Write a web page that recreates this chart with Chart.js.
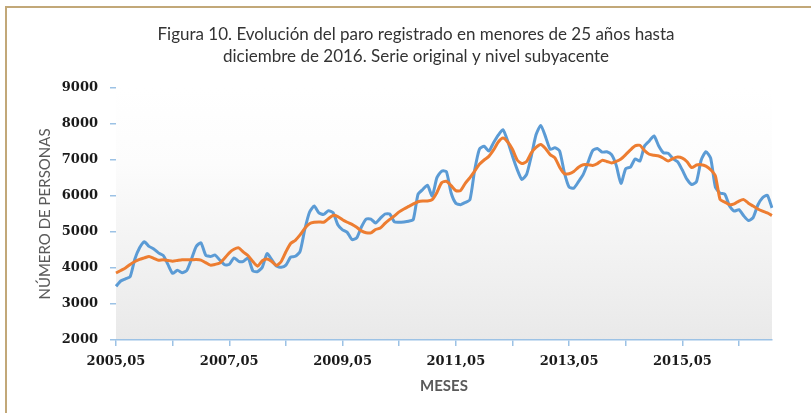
<!DOCTYPE html>
<html>
<head>
<meta charset="utf-8">
<script src="https://cdn.jsdelivr.net/npm/chart.js@4.4.1/dist/chart.umd.min.js"></script>
<style>
  html, body { margin: 0; padding: 0; background: #ffffff; }
  #wrap { width: 811px; height: 413px; position: relative; }
</style>
</head>
<body>
<div id="wrap"><canvas id="c" width="811" height="413"></canvas></div>
<script>
// ---- Data (monthly, 2005-05 .. 2016-12) ----
const titleLines = [
  "Figura 10. Evolución del paro registrado en menores de 25 años hasta",
  "diciembre de 2016. Serie original y nivel subyacente"
];
const yAxisTitle = "NÚMERO DE PERSONAS";
const xAxisTitle = "MESES";
const startYear = 2005;
const startMonth = 5;
const monthCount = 140;

const serieOriginal = [
  3490, 3640, 3700, 3760, 4250, 4560, 4730, 4600, 4530, 4420, 4350, 4100,
  3850, 3940, 3870, 3930, 4250, 4600, 4700, 4360, 4320, 4360, 4220, 4090,
  4100, 4280, 4185, 4185, 4280, 3920, 3900, 4020, 4400, 4230, 4050, 4020,
  4080, 4300, 4325, 4460, 5070, 5550, 5720, 5530, 5490, 5590, 5540, 5200,
  5060, 4990, 4790, 4835, 5140, 5360, 5360, 5250, 5380, 5500, 5500, 5280,
  5270, 5280, 5300, 5350, 6050, 6180, 6300, 6000, 6510, 6690, 6680, 6090,
  5800, 5760, 5820, 5900, 6720, 7300, 7380, 7250, 7480, 7690, 7840, 7520,
  7110, 6740, 6460, 6600, 7110, 7700, 7960, 7650, 7300, 7340, 7250, 6650,
  6250, 6220, 6400, 6600, 6930, 7260, 7320, 7220, 7230, 7150, 6850, 6350,
  6760, 6800, 7030, 6970, 7390, 7530, 7670, 7390, 7200, 7190, 7040, 6950,
  6720, 6460, 6320, 6400, 7000, 7230, 7050, 6250, 6080, 6050, 5720, 5580,
  5620, 5450, 5320, 5400, 5750, 5950, 6020, 5670
];

const nivelSubyacente = [
  3860, 3930, 4000, 4100, 4180, 4240, 4280, 4320, 4270, 4215, 4230, 4210,
  4190, 4210, 4230, 4230, 4230, 4235, 4220, 4150, 4080, 4100, 4140, 4270,
  4420, 4520, 4560, 4440, 4340, 4180, 4050, 4200, 4250, 4180, 4070, 4180,
  4450, 4680, 4770, 4920, 5100, 5230, 5270, 5280, 5270, 5370, 5460, 5430,
  5340, 5270, 5210, 5130, 5030, 4980, 4975, 5070, 5110, 5240, 5350, 5450,
  5560, 5640, 5710, 5780, 5840, 5860, 5860, 5900, 6100, 6370, 6410, 6290,
  6150, 6150, 6350, 6510, 6690, 6880, 7000, 7100, 7280, 7500, 7610, 7500,
  7300, 7000, 6900, 6960, 7200, 7350, 7430, 7320, 7150, 7060, 6800, 6620,
  6620, 6680, 6800, 6870, 6870, 6850, 6900, 6990, 6960, 6920, 6960, 7030,
  7150, 7280, 7390, 7410, 7260, 7160, 7130, 7110, 7050, 6970, 7040, 7080,
  7050, 6950, 6790, 6860, 6870, 6830, 6730, 6560, 5900, 5830, 5760, 5780,
  5860, 5900, 5800, 5720, 5640, 5580, 5530, 5460
];

const yMin = 2000, yMax = 9000, yStep = 1000;

// month labels "YYYY,MM"
const categories = [];
for (let i = 0; i < monthCount; i++) {
  const m0 = startMonth - 1 + i;
  const y = startYear + Math.floor(m0 / 12);
  const m = (m0 % 12) + 1;
  categories.push(y + "," + String(m).padStart(2, "0"));
}

// ---- Layout constants ----
const AREA = { left: 116, right: 772, top: 88, bottom: 340 };
const W = 811, H = 413;
const axisBlue = "#9cc2e5";

const decoPlugin = {
  id: "deco",
  beforeDraw(chart) {
    const ctx = chart.ctx;
    const ca = chart.chartArea;
    ctx.save();
    ctx.fillStyle = "#ffffff";
    ctx.fillRect(0, 0, W, H);
    // tan frame (top & left)
    ctx.strokeStyle = "#c2a878";
    ctx.lineWidth = 2;
    ctx.beginPath();
    ctx.moveTo(W, 7);
    ctx.lineTo(6, 7);
    ctx.lineTo(6, H);
    ctx.stroke();
    // plot area gradient
    const g = ctx.createLinearGradient(0, ca.top, 0, ca.bottom);
    g.addColorStop(0, "#ffffff");
    g.addColorStop(0.3, "#fcfcfc");
    g.addColorStop(1, "#e9e9e9");
    ctx.fillStyle = g;
    ctx.fillRect(ca.left, ca.top, ca.right - ca.left, ca.bottom - ca.top);
    ctx.restore();
  },
  afterDraw(chart) {
    const ctx = chart.ctx;
    ctx.save();
    ctx.fillStyle = "#333333";
    ctx.font = "17px Lato";
    ctx.textAlign = "center";
    ctx.textBaseline = "middle";
    ctx.fillText(titleLines[0], 416, 35);
    ctx.fillText(titleLines[1], 416, 57);
    ctx.restore();
  }
};

const tickFont = { family: "'DejaVu Serif'", size: 13, weight: "bold" };

new Chart(document.getElementById("c"), {
  type: "line",
  data: {
    labels: categories,
    datasets: [
      {
        label: "Serie original",
        data: serieOriginal,
        borderColor: "#5b9bd5",
        borderWidth: 3,
        pointRadius: 0,
        tension: 0.2,
        fill: false,
        order: 1
      },
      {
        label: "Nivel subyacente",
        data: nivelSubyacente,
        borderColor: "#ed7d31",
        borderWidth: 3,
        pointRadius: 0,
        tension: 0.2,
        fill: false,
        order: 0
      }
    ]
  },
  options: {
    responsive: false,
    animation: false,
    layout: { padding: { left: 0, right: W - AREA.right, top: AREA.top, bottom: 0 } },
    plugins: {
      legend: { display: false },
      tooltip: { enabled: false },
      title: { display: false }
    },
    scales: {
      x: {
        type: "category",
        offset: false,
        afterFit(scale) { scale.height = H - AREA.bottom; },
        border: { display: true, color: axisBlue, width: 1.5 },
        grid: {
          display: true,
          drawOnChartArea: false,
          drawTicks: true,
          tickLength: 6,
          color: axisBlue,
          lineWidth: 1.5
        },
        ticks: {
          autoSkip: false,
          maxRotation: 0,
          minRotation: 0,
          padding: 8,
          color: "#1a1a1a",
          font: tickFont,
          callback(value, index) {
            if (index % 24 === 0) return categories[index];
            if (index % 12 === 0) return "";
            return null;
          }
        },
        title: {
          display: true,
          text: xAxisTitle,
          color: "#595959",
          font: { family: "Lato", size: 15, weight: "bold" },
          padding: { top: 0, bottom: 18 }
        }
      },
      y: {
        min: yMin,
        max: yMax,
        afterFit(scale) { scale.width = AREA.left; },
        border: { display: false },
        grid: {
          display: true,
          drawOnChartArea: false,
          drawTicks: true,
          tickLength: 6,
          color: axisBlue,
          lineWidth: 1.5
        },
        ticks: {
          stepSize: yStep,
          padding: 12,
          color: "#1a1a1a",
          font: tickFont,
          callback(value) { return String(value); }
        },
        title: {
          display: true,
          text: yAxisTitle,
          color: "#595959",
          font: { family: "Lato", size: 15 },
          padding: { top: 36, bottom: 0 }
        }
      }
    }
  },
  plugins: [decoPlugin]
});
</script>
</body>
</html>
